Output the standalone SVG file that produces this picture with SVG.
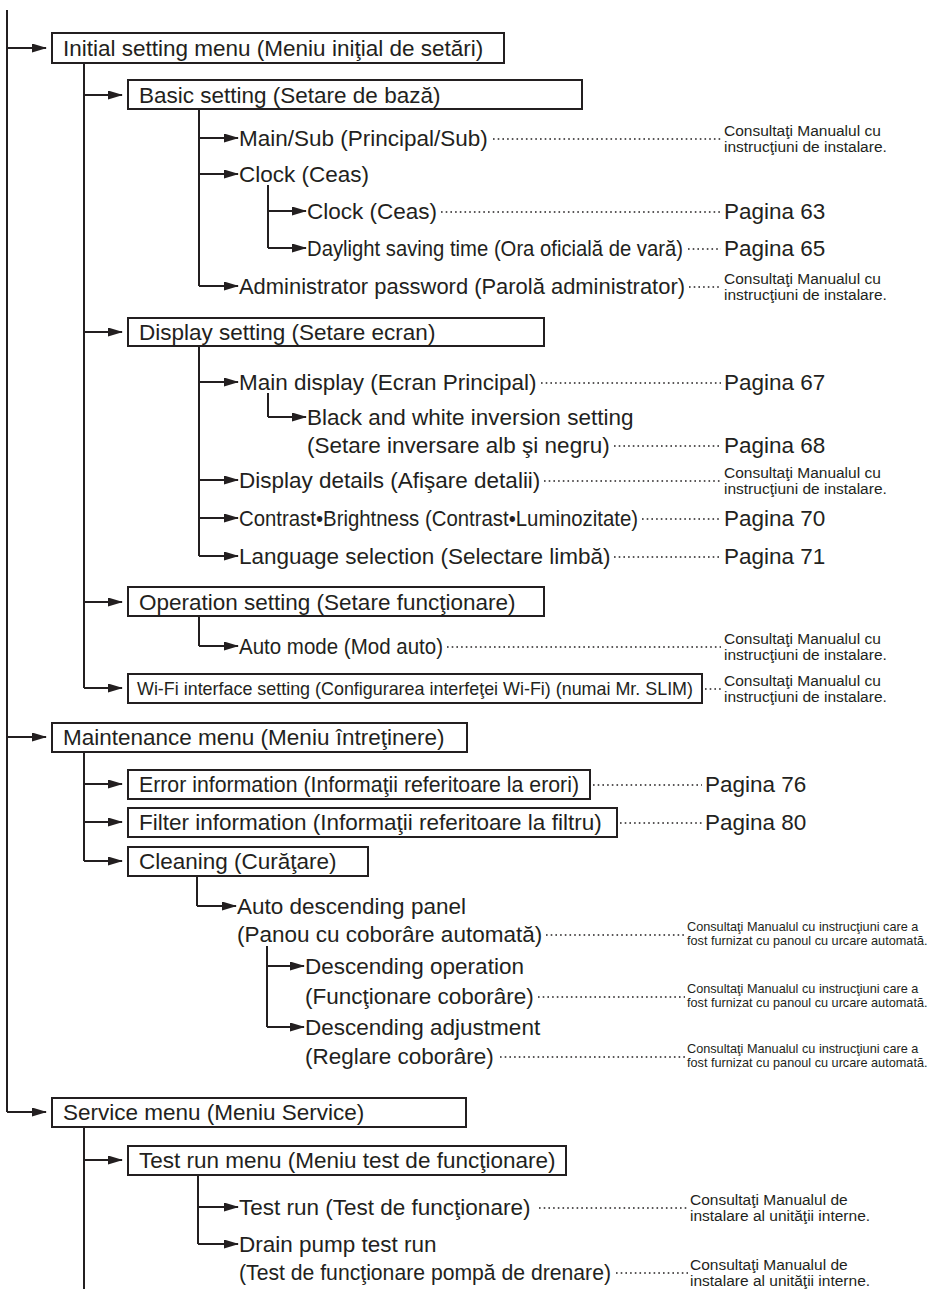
<svg xmlns="http://www.w3.org/2000/svg" width="930" height="1289" viewBox="0 0 930 1289">
<style>
text{font-family:"Liberation Sans",Arial,Helvetica,sans-serif;fill:#231f20}
.t{font-size:22.5px}
.s{font-size:15.5px}
.c{font-size:12.7px}
.w{font-size:17.8px}
.box{fill:#fff;stroke:#231f20;stroke-width:2}
.ln{stroke:#231f20;stroke-width:2;fill:none}
.ar{stroke:#231f20;stroke-width:2;fill:none;marker-end:url(#ah)}
.dt{stroke:#231f20;stroke-width:1.6;stroke-dasharray:1.6 3.1;fill:none}
</style>
<defs>
<marker id="ah" markerWidth="15" markerHeight="9" refX="14" refY="4.5" orient="auto" markerUnits="userSpaceOnUse"><path d="M0,0 L15,4.5 L0,9 z" fill="#231f20"/></marker>
</defs>
<rect width="930" height="1289" fill="#fff"/>
<g id="connectors">
<line class="ln" x1="7" y1="10" x2="7" y2="1112"/>
<line class="ar" x1="7" y1="48" x2="46" y2="48"/>
<line class="ar" x1="7" y1="737" x2="46" y2="737"/>
<line class="ar" x1="7" y1="1112" x2="46" y2="1112"/>
<line class="ln" x1="84" y1="63" x2="84" y2="688"/>
<line class="ar" x1="84" y1="95" x2="122" y2="95"/>
<line class="ar" x1="84" y1="332" x2="122" y2="332"/>
<line class="ar" x1="84" y1="602" x2="122" y2="602"/>
<line class="ar" x1="84" y1="688" x2="122" y2="688"/>
<line class="ln" x1="84" y1="752" x2="84" y2="861"/>
<line class="ar" x1="84" y1="784" x2="122" y2="784"/>
<line class="ar" x1="84" y1="822" x2="122" y2="822"/>
<line class="ar" x1="84" y1="861" x2="122" y2="861"/>
<line class="ln" x1="84" y1="1127" x2="84" y2="1289"/>
<line class="ar" x1="84" y1="1160" x2="122" y2="1160"/>
<line class="ln" x1="199" y1="109" x2="199" y2="286"/>
<line class="ar" x1="199" y1="138" x2="238" y2="138"/>
<line class="ar" x1="199" y1="174" x2="238" y2="174"/>
<line class="ar" x1="199" y1="286" x2="238" y2="286"/>
<line class="ln" x1="268" y1="185" x2="268" y2="248"/>
<line class="ar" x1="268" y1="211" x2="306" y2="211"/>
<line class="ar" x1="268" y1="248" x2="306" y2="248"/>
<line class="ln" x1="199" y1="346" x2="199" y2="556"/>
<line class="ar" x1="199" y1="382" x2="238" y2="382"/>
<line class="ar" x1="199" y1="480" x2="238" y2="480"/>
<line class="ar" x1="199" y1="518" x2="238" y2="518"/>
<line class="ar" x1="199" y1="556" x2="238" y2="556"/>
<line class="ln" x1="268" y1="393" x2="268" y2="417"/>
<line class="ar" x1="268" y1="417" x2="306" y2="417"/>
<line class="ln" x1="199" y1="616" x2="199" y2="646"/>
<line class="ar" x1="199" y1="646" x2="238" y2="646"/>
<line class="ln" x1="197" y1="876" x2="197" y2="906"/>
<line class="ar" x1="197" y1="906" x2="236" y2="906"/>
<line class="ln" x1="267" y1="946" x2="267" y2="1027"/>
<line class="ar" x1="267" y1="966" x2="304" y2="966"/>
<line class="ar" x1="267" y1="1027" x2="304" y2="1027"/>
<line class="ln" x1="198" y1="1175" x2="198" y2="1244"/>
<line class="ar" x1="198" y1="1207" x2="238" y2="1207"/>
<line class="ar" x1="198" y1="1244" x2="238" y2="1244"/>
</g>
<g id="initial"><rect class="box" x="52" y="33" width="452" height="30"/><text class="t" x="63" y="56">Initial setting menu (Meniu iniţial de setări)</text></g>
<g id="basic"><rect class="box" x="128" y="80" width="454" height="29"/><text class="t" x="139" y="103">Basic setting (Setare de bază)</text></g>
<g id="mainsub"><text class="t" x="239" y="146">Main/Sub (Principal/Sub)</text><line class="dt" x1="493" y1="139" x2="721" y2="139"/><text class="s" x="724" y="136">Consultaţi Manualul cu</text><text class="s" x="724" y="152">instrucţiuni de instalare.</text></g>
<g id="clock"><text class="t" x="239" y="182">Clock (Ceas)</text></g>
<g id="clock2"><text class="t" x="307" y="219">Clock (Ceas)</text><line class="dt" x1="441" y1="212" x2="721" y2="212"/><text class="t" x="724" y="219">Pagina 63</text></g>
<g id="daylight"><text class="t" x="307" y="256" textLength="376" lengthAdjust="spacingAndGlyphs">Daylight saving time (Ora oficială de vară)</text><line class="dt" x1="688" y1="249" x2="721" y2="249"/><text class="t" x="724" y="256">Pagina 65</text></g>
<g id="admin"><text class="t" x="239" y="294" textLength="446" lengthAdjust="spacingAndGlyphs">Administrator password (Parolă administrator)</text><line class="dt" x1="689" y1="287" x2="721" y2="287"/><text class="s" x="724" y="284">Consultaţi Manualul cu</text><text class="s" x="724" y="300">instrucţiuni de instalare.</text></g>
<g id="display"><rect class="box" x="128" y="318" width="416" height="28"/><text class="t" x="139" y="340">Display setting (Setare ecran)</text></g>
<g id="maindisplay"><text class="t" x="239" y="390">Main display (Ecran Principal)</text><line class="dt" x1="541" y1="383" x2="721" y2="383"/><text class="t" x="724" y="390">Pagina 67</text></g>
<g id="bw"><text class="t" x="307" y="425">Black and white inversion setting</text><text class="t" x="307" y="453">(Setare inversare alb şi negru)</text><line class="dt" x1="614" y1="446" x2="721" y2="446"/><text class="t" x="724" y="453">Pagina 68</text></g>
<g id="details"><text class="t" x="239" y="488">Display details (Afişare detalii)</text><line class="dt" x1="544" y1="481" x2="721" y2="481"/><text class="s" x="724" y="478">Consultaţi Manualul cu</text><text class="s" x="724" y="494">instrucţiuni de instalare.</text></g>
<g id="contrast"><text class="t" x="239" y="526" textLength="399" lengthAdjust="spacingAndGlyphs">Contrast•Brightness (Contrast•Luminozitate)</text><line class="dt" x1="642" y1="519" x2="721" y2="519"/><text class="t" x="724" y="526">Pagina 70</text></g>
<g id="language"><text class="t" x="239" y="564">Language selection (Selectare limbă)</text><line class="dt" x1="614" y1="557" x2="721" y2="557"/><text class="t" x="724" y="564">Pagina 71</text></g>
<g id="operation"><rect class="box" x="128" y="587" width="416" height="29"/><text class="t" x="139" y="610">Operation setting (Setare funcţionare)</text></g>
<g id="automode"><text class="t" x="239" y="654" textLength="204" lengthAdjust="spacingAndGlyphs">Auto mode (Mod auto)</text><line class="dt" x1="447" y1="647" x2="721" y2="647"/><text class="s" x="724" y="644">Consultaţi Manualul cu</text><text class="s" x="724" y="660">instrucţiuni de instalare.</text></g>
<g id="wifi"><rect class="box" x="128" y="674" width="574" height="29"/><text class="w" x="137" y="695" textLength="556" lengthAdjust="spacingAndGlyphs">Wi-Fi interface setting (Configurarea interfeţei Wi-Fi) (numai Mr. SLIM)</text><line class="dt" x1="705" y1="689" x2="721" y2="689"/><text class="s" x="724" y="686">Consultaţi Manualul cu</text><text class="s" x="724" y="702">instrucţiuni de instalare.</text></g>
<g id="maintenance"><rect class="box" x="52" y="723" width="415" height="29"/><text class="t" x="63" y="745">Maintenance menu (Meniu întreţinere)</text></g>
<g id="error"><rect class="box" x="128" y="770" width="462" height="29"/><text class="t" x="139" y="792" textLength="440" lengthAdjust="spacingAndGlyphs">Error information (Informaţii referitoare la erori)</text><line class="dt" x1="593" y1="785" x2="702" y2="785"/><text class="t" x="705" y="792">Pagina 76</text></g>
<g id="filter"><rect class="box" x="128" y="808" width="489" height="29"/><text class="t" x="139" y="830">Filter information (Informaţii referitoare la filtru)</text><line class="dt" x1="620" y1="823" x2="702" y2="823"/><text class="t" x="705" y="830">Pagina 80</text></g>
<g id="cleaning"><rect class="box" x="128" y="847" width="240" height="29"/><text class="t" x="139" y="869">Cleaning (Curăţare)</text></g>
<g id="autodesc"><text class="t" x="237" y="914">Auto descending panel</text><text class="t" x="237" y="942">(Panou cu coborâre automată)</text><line class="dt" x1="546" y1="935" x2="685" y2="935"/><text class="c" x="687" y="931">Consultaţi Manualul cu instrucţiuni care a</text><text class="c" x="687" y="945">fost furnizat cu panoul cu urcare automată.</text></g>
<g id="descop"><text class="t" x="305" y="974">Descending operation</text><text class="t" x="305" y="1004">(Funcţionare coborâre)</text><line class="dt" x1="538" y1="997" x2="685" y2="997"/><text class="c" x="687" y="993">Consultaţi Manualul cu instrucţiuni care a</text><text class="c" x="687" y="1007">fost furnizat cu panoul cu urcare automată.</text></g>
<g id="descadj"><text class="t" x="305" y="1035">Descending adjustment</text><text class="t" x="305" y="1064">(Reglare coborâre)</text><line class="dt" x1="500" y1="1057" x2="685" y2="1057"/><text class="c" x="687" y="1053">Consultaţi Manualul cu instrucţiuni care a</text><text class="c" x="687" y="1067">fost furnizat cu panoul cu urcare automată.</text></g>
<g id="service"><rect class="box" x="52" y="1098" width="414" height="29"/><text class="t" x="63" y="1120">Service menu (Meniu Service)</text></g>
<g id="testmenu"><rect class="box" x="128" y="1146" width="438" height="29"/><text class="t" x="139" y="1168">Test run menu (Meniu test de funcţionare)</text></g>
<g id="testrun"><text class="t" x="239" y="1215">Test run (Test de funcţionare)</text><line class="dt" x1="539" y1="1208" x2="688" y2="1208"/><text class="s" x="690" y="1205">Consultaţi Manualul de</text><text class="s" x="690" y="1221">instalare al unităţii interne.</text></g>
<g id="drain"><text class="t" x="239" y="1252">Drain pump test run</text><text class="t" x="239" y="1280" textLength="372" lengthAdjust="spacingAndGlyphs">(Test de funcţionare pompă de drenare)</text><line class="dt" x1="616" y1="1273" x2="688" y2="1273"/><text class="s" x="690" y="1270">Consultaţi Manualul de</text><text class="s" x="690" y="1286">instalare al unităţii interne.</text></g>
</svg>
